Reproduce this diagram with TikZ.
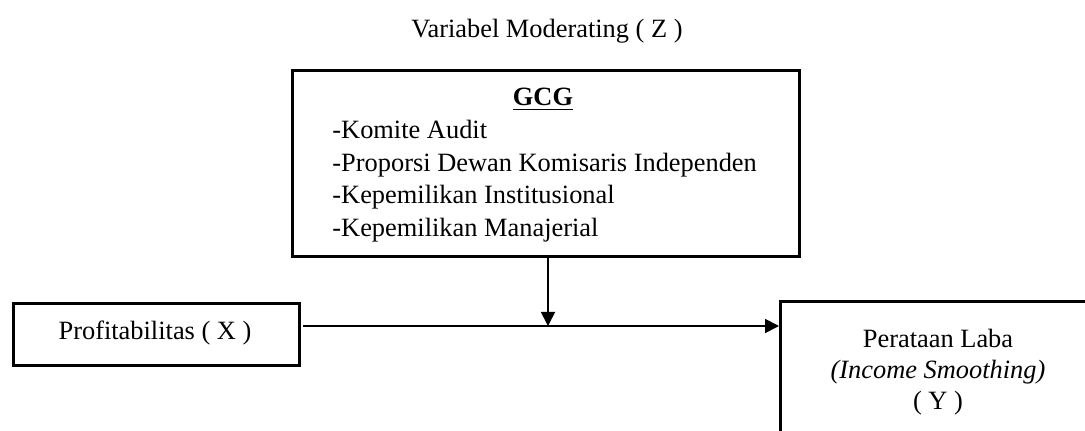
\documentclass[tikz,border=0pt]{standalone}
\usepackage{fontspec}
\setmainfont{Liberation Serif}
\usetikzlibrary{arrows.meta}

\begin{document}
\begin{tikzpicture}[x=0.5pt, y=-0.5pt,
  kotak/.style={draw, line width=1.4pt, inner sep=0pt, anchor=north west},
  teks/.style={inner sep=0pt, anchor=base, font=\fontsize{13.2pt}{16.3pt}\selectfont},
  panah/.style={line width=0.9pt, -{Triangle[length=7pt, width=7pt]}}]

\clip (0,0) rectangle (1085,431);
\useasboundingbox (0,0) rectangle (1085,431);

% Variabel moderating
\node[teks] (judul) at (547,38) {Variabel Moderating ( Z )};
\node[kotak, minimum width=253.5pt, minimum height=93pt] (gcg) at (291,69) {};
\node[teks] (gcgjudul) at (543,106) {\underline{\textbf{GCG}}};
\foreach \isi [count=\i from 0] in {Komite Audit, Proporsi Dewan Komisaris Independen,
		Kepemilikan Institusional, Kepemilikan Manajerial}
	\node[teks, anchor=base west] (gcg\i) at (332,139+32.4*\i) {-\isi};

% Variabel X dan Y
\node[kotak, minimum width=143pt, minimum height=31pt] (prof) at (12,302) {};
\node[teks] (proftext) at (155,340) {Profitabilitas ( X )};

\node[kotak, minimum width=159pt, minimum height=75pt] (laba) at (779,300) {};
\node[teks] (laba0) at (938,348) {Perataan Laba};
\node[teks] (laba1) at (938,379) {\textit{(Income Smoothing)}};
\node[teks] (laba2) at (938,410) {( Y )};

% Panah
\coordinate (temu) at (548,326);
\draw[line width=0.9pt] ([xshift=1pt]prof.east |- temu) -- (temu);
\draw[panah] (temu) -- (temu -| laba.west);
\draw[panah] (gcg.south -| temu) -- (temu);
\end{tikzpicture}
\end{document}
